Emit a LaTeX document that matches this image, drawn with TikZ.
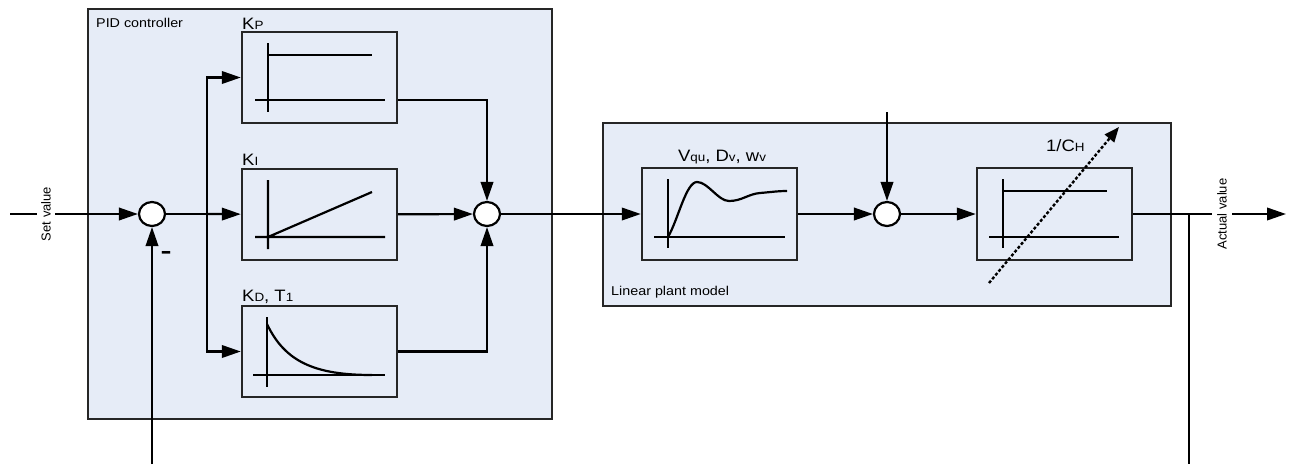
\documentclass[tikz,border=0pt]{standalone}
\usepackage{fontspec}
\setmainfont{Liberation Sans}
\newfontfamily\lblfont[FakeStretch=1.12]{Liberation Sans}
\newfontfamily\minusfont[FakeStretch=1.5]{Liberation Sans Bold}
\usetikzlibrary{arrows.meta,shapes.geometric}
\definecolor{panelblue}{RGB}{230,236,247}
\newcommand{\mylbig}[1]{{\fontsize{16.5}{16.5}\selectfont #1}}
\newcommand{\mylsub}[1]{{\fontsize{12}{12}\selectfont #1}}
\begin{document}
\begin{tikzpicture}[x=1pt,y=-1pt,
  panel/.style={draw=black!85, line width=2.6pt, fill=panelblue, inner sep=0pt},
  block/.style={draw=black!85, line width=2.4pt, fill=panelblue, minimum width=155pt, minimum height=91pt, inner sep=0pt},
  sumpt/.style={ellipse, draw=black, line width=2.2pt, fill=white, minimum width=26pt, minimum height=24pt, inner sep=0pt},
  wire/.style={line width=2.2pt, draw=black},
  arr/.style={wire, -{Triangle[length=19pt,width=12.5pt]}},
  plot/.style={line width=2.2pt},
  small/.style={font=\lblfont\fontsize{12.8}{13}\selectfont, inner sep=0pt},
  rlabel/.style={font=\fontsize{13}{13}\selectfont, rotate=90, fill=white, inner xsep=0pt, inner ysep=4.5pt},
  big/.style={font=\lblfont, inner sep=0pt, anchor=base west}
]
\useasboundingbox (0,0) rectangle (1292,464);

% panels
\node[panel, minimum width=464pt, minimum height=410pt] (pid) at (320,214) {};
\node[panel, minimum width=568pt, minimum height=183pt] (plant) at (887,214.5) {};

% blocks
\node[block] (kp) at (319.5,77.5) {};
\node[block] (ki) at (319.5,214.5) {};
\node[block] (kd) at (319.5,351.5) {};
\node[block, minimum height=92pt] (vq) at (719.5,214) {};
\node[block, minimum height=92pt] (ch) at (1054.5,214) {};

% summing points
\node[sumpt] (s1) at (152,214) {};
\node[sumpt] (s2) at (487,214) {};
\node[sumpt] (s3) at (887,214) {};

% free ends
\coordinate (in) at (10,214);
\coordinate (out) at (1286,214);
\coordinate (br) at (207,214);
\coordinate (tap) at (1189,214);
\coordinate (fbR) at (1189,464);
\coordinate (fbL) at (152,464);
\coordinate (dist) at (887,112);

% connectors
\draw[arr] (in) -- (s1);
\node[rlabel] (setv) at (46,214) {Set value};
\draw[wire] (s1) -- (br);
\draw[arr] (br) -- (ki);
\draw[arr] (br) |- (kp);
\draw[arr] (br) |- (kd);
\draw[arr] ([yshift=-22.5pt]kp.east) -| (s2);
\draw[arr] (ki) -- (s2);
\draw[arr] (kd) -| (s2);
\draw[arr] (s2) -- (vq);
\draw[arr] (vq) -- (s3);
\draw[arr] (dist) -- (s3);
\draw[arr] (s3) -- (ch);
\draw[arr] (ch) -- (out);
\node[rlabel, inner ysep=5.5pt] (actv) at (1222,214) {Actual value};
\draw[wire] (tap) -- (fbR);
\draw[arr] (fbL) -- (s1);

% inner plots
\draw[plot] (268,43) -- (268,112) (268,55) -- (372,55) (255,100) -- (385,100);
\draw[plot] (268,180) -- (268,249) (255,237) -- (385,237) (268,237) -- (372,192);
\draw[plot] (267,317) -- (267,387) (253,375) -- (385,375);
\draw[plot] (267,324) .. controls (285,362) and (315,375) .. (372,375);
\draw[plot] (668,179) -- (668,248) (654,237) -- (785,237);
\draw[plot] (668,237) .. controls (678,220) and (686,182) .. (697,182)
  .. controls (708,182) and (718,201) .. (729,201)
  .. controls (742,201) and (748,194) .. (760,193)
  .. controls (772,192) and (778,191) .. (787,191);
\draw[plot] (1003,179) -- (1003,248) (1003,191) -- (1107,191) (989,237) -- (1119,237);
\draw[line width=2.4pt, dash pattern=on 3pt off 2pt, -{Triangle[length=15pt,width=12pt]}] (989,283) -- (1119,127);

% labels
\node[small, anchor=base west] (pidl) at (96,27.3) {PID controller};
\node[small, anchor=base west] (plantl) at (611,295) {Linear plant model};
\node[big] (kpl) at (242,29.3) {\mylbig{K}\mylsub{P}};
\node[big] (kil) at (242,165.7) {\mylbig{K}\mylsub{I}};
\node[big] (kdl) at (242,301.7) {\mylbig{K}\mylsub{D}\mylbig{, T}\mylsub{1}};
\node[big, anchor=base] (vql) at (722,161.7) {\mylbig{V}\mylsub{qu}\mylbig{, D}\mylsub{v}\mylbig{, w}\mylsub{v}};
\node[big] (chl) at (1046,151.7) {\mylbig{1/C}\mylsub{H}};
\node[font=\minusfont\fontsize{22}{22}\selectfont, inner sep=0pt] (minus) at (166,255) {-};
\end{tikzpicture}
\end{document}
